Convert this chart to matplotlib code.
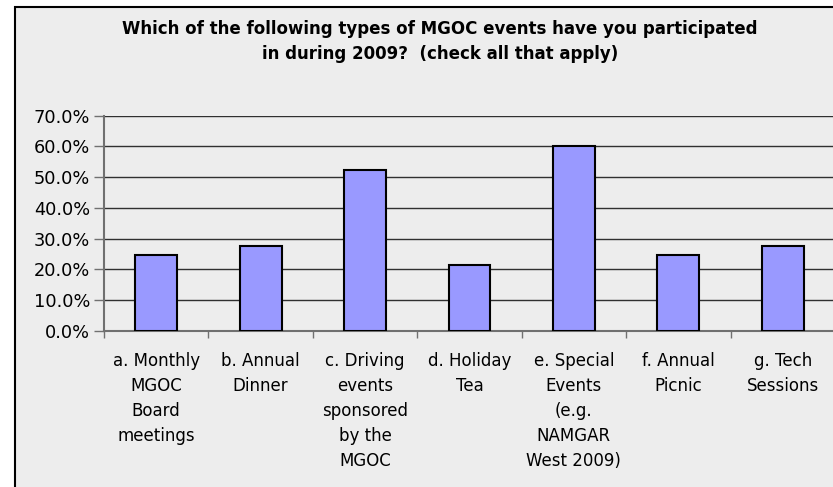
import matplotlib
matplotlib.use("Agg")
import matplotlib.pyplot as plt
from matplotlib.patches import Rectangle
from matplotlib.ticker import FuncFormatter, FixedLocator

categories = ["a. Monthly\nMGOC\nBoard\nmeetings", "b. Annual\nDinner",
              "c. Driving\nevents\nsponsored\nby the\nMGOC", "d. Holiday\nTea",
              "e. Special\nEvents\n(e.g.\nNAMGAR\nWest 2009)", "f. Annual\nPicnic",
              "g. Tech\nSessions"]
values = [24.6, 27.7, 52.3, 21.5, 60.1, 24.6, 27.7]
yticks = [0, 10, 20, 30, 40, 50, 60, 70]
title = "Which of the following types of MGOC events have you participated\nin during 2009?  (check all that apply)"

W, H = 833, 487
fig = plt.figure(figsize=(W/100, H/100), dpi=100)
fig.patch.set_facecolor("white")
bg = "#EDEDED"
fig.patches.append(Rectangle((15/W, -0.1), 1.2, 1 - 7/H + 0.1, transform=fig.transFigure,
                             facecolor=bg, edgecolor="black", linewidth=1.5, zorder=-5))

left, right = 104, 835
top, bottom = 115.7, 330.7
ax = fig.add_axes([left/W, 1 - bottom/H, (right-left)/W, (bottom-top)/H])
ax.set_zorder(2)
ax.set_facecolor(bg)
ax.patch.set_alpha(0)

x = list(range(len(values)))
ax.bar(x, values, width=0.4, color="#9999FF", edgecolor="black", linewidth=1.5, zorder=3)
ax.set_xlim(-0.5, len(values) - 0.5)
ax.set_ylim(0, 70)
ax.set_yticks(yticks)
ax.yaxis.set_major_formatter(FuncFormatter(lambda v, p: f"{v:.1f}%"))
ax.grid(axis="y", color="#303030", linewidth=1.0, zorder=1)

ax.xaxis.set_major_locator(FixedLocator([i - 0.5 for i in range(len(values) + 1)]))
ax.xaxis.set_minor_locator(FixedLocator(x))
ax.set_xticklabels([])
ax.set_xticklabels(categories, minor=True, fontsize=12, linespacing=1.5, va="top")
ax.tick_params(axis="x", which="minor", length=0, pad=15)
ax.tick_params(axis="x", which="major", length=5, width=1, color="#707070", direction="out")
ax.tick_params(axis="y", length=7, width=1, color="#707070", labelsize=12.8, pad=3)

for s in ["top", "right"]:
    ax.spines[s].set_visible(False)
ax.spines["left"].set_color("#707070")
ax.spines["left"].set_linewidth(1.5)
ax.spines["bottom"].set_color("#707070")
ax.spines["bottom"].set_linewidth(1.5)

fig.text(440/W, 1 - 41.5/H, title, ha="center", va="center", fontsize=12,
         fontweight="bold", linespacing=1.45, zorder=3)

fig.savefig("out.png", dpi=100)
